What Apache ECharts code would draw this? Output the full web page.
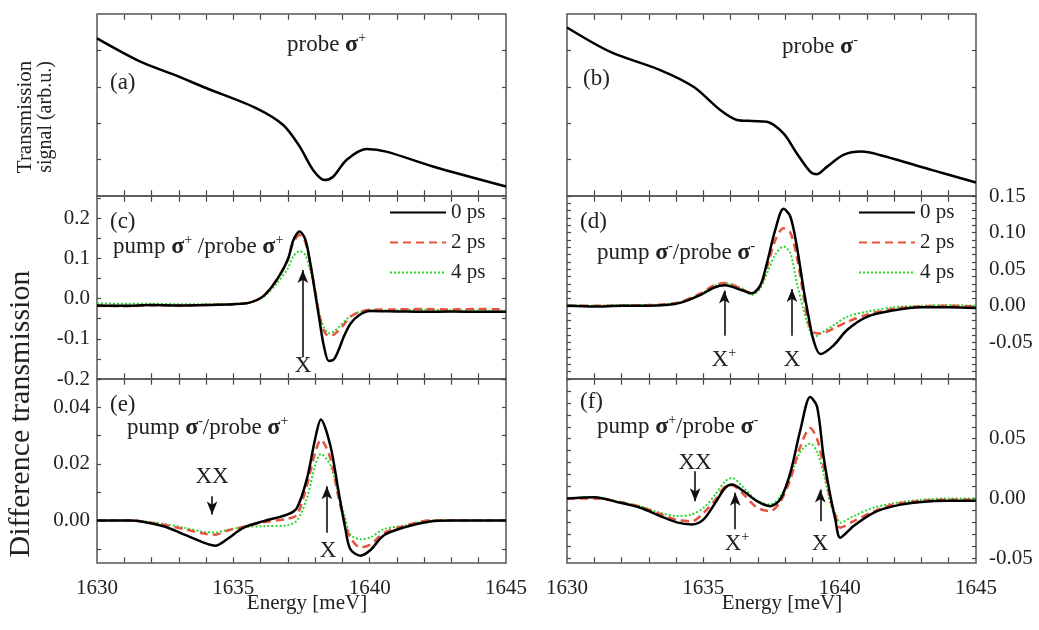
<!DOCTYPE html>
<html>
<head>
<meta charset="utf-8">
<script src="https://cdn.jsdelivr.net/npm/echarts@6/dist/echarts.min.js"></script>
<style>html,body{margin:0;padding:0;background:#fff}#main{width:1039px;height:630px}</style>
</head>
<body>
<div id="main"></div>
<script>
var chartDom = document.getElementById('main');
var myChart = echarts.init(chartDom);
var option;

var FONT = 'Liberation Serif';

// (a) probe sigma+ , (b) probe sigma- : transmission signal (arb.u.)
var aEnergy = [1630, 1631.59, 1632.8, 1634.02, 1635.85, 1636.83, 1637.44, 1637.93, 1638.35, 1638.66, 1639.15, 1639.88, 1640.61, 1642.32, 1645];
var aSignal = [4.33, 3.69, 3.34, 2.96, 2.41, 1.95, 1.35, 0.71, 0.44, 0.53, 0.99, 1.29, 1.22, 0.81, 0.26];
var bEnergy = [1630, 1631.59, 1633.42, 1634.64, 1635.62, 1636.23, 1636.8, 1637.33, 1637.94, 1638.43, 1638.92, 1639.17, 1639.53, 1640.14, 1640.8, 1641.5, 1643.4, 1645];
var bSignal = [4.63, 3.96, 3.46, 3.0, 2.36, 2.09, 2.06, 2.04, 1.72, 1.17, 0.67, 0.60, 0.80, 1.13, 1.22, 1.12, 0.71, 0.37];

// (c) pump s+/probe s+
var cEnergy = [1630, 1631, 1632, 1633, 1634, 1635, 1635.6, 1636.1, 1636.6, 1637.0, 1637.2, 1637.43, 1637.64, 1637.82, 1638.0, 1638.15, 1638.32, 1638.5, 1638.68, 1638.85, 1639.05, 1639.3, 1639.6, 1640.0, 1641, 1642, 1643, 1644, 1645];
var c0ps = [-0.017, -0.018, -0.016, -0.017, -0.016, -0.014, -0.01, 0.006, 0.047, 0.097, 0.145, 0.167, 0.147, 0.089, 0.014, -0.05, -0.118, -0.155, -0.152, -0.13, -0.095, -0.062, -0.042, -0.031, -0.032, -0.033, -0.032, -0.033, -0.033];
var c2ps = [-0.018, -0.019, -0.017, -0.018, -0.016, -0.014, -0.01, 0.006, 0.048, 0.097, 0.14, 0.158, 0.14, 0.085, 0.02, -0.04, -0.08, -0.093, -0.09, -0.08, -0.065, -0.045, -0.034, -0.028, -0.027, -0.026, -0.027, -0.026, -0.027];
var c4ps = [-0.012, -0.013, -0.013, -0.014, -0.014, -0.013, -0.01, 0.004, 0.038, 0.075, 0.105, 0.118, 0.108, 0.07, 0.02, -0.035, -0.072, -0.086, -0.082, -0.072, -0.058, -0.043, -0.034, -0.029, -0.029, -0.028, -0.029, -0.03, -0.03];

// (d) pump s-/probe s-
var dEnergy = [1630, 1631, 1632, 1633, 1633.6, 1634.15, 1634.9, 1635.4, 1635.8, 1636.36, 1636.78, 1637.09, 1637.33, 1637.64, 1637.94, 1638.19, 1638.43, 1638.68, 1638.86, 1639.04, 1639.29, 1639.78, 1640.27, 1641.0, 1642, 1643, 1644, 1645];
var d0ps = [0, -0.001, 0, 0, 0.001, 0.004, 0.015, 0.025, 0.028, 0.022, 0.017, 0.028, 0.058, 0.104, 0.1325, 0.122, 0.081, 0.022, -0.015, -0.047, -0.066, -0.054, -0.033, -0.015, -0.006, -0.002, -0.002, -0.003];
var d2ps = [0, 0, 0, 0.001, 0.002, 0.005, 0.017, 0.028, 0.031, 0.024, 0.017, 0.027, 0.052, 0.09, 0.106, 0.1, 0.067, 0.012, -0.024, -0.036, -0.038, -0.031, -0.022, -0.012, -0.004, -0.001, 0, -0.001];
var d4ps = [0.001, 0, 0.001, 0.001, 0.002, 0.005, 0.016, 0.027, 0.031, 0.025, 0.015, 0.024, 0.044, 0.07, 0.081, 0.072, 0.031, -0.006, -0.029, -0.043, -0.038, -0.0265, -0.015, -0.008, -0.002, 0, 0.001, 0];

// (e) pump s-/probe s+
var eEnergy = [1630, 1631.2, 1632.44, 1633.18, 1633.91, 1634.34, 1634.77, 1635.38, 1636.11, 1636.97, 1637.33, 1637.7, 1638.0, 1638.21, 1638.56, 1638.86, 1639.1, 1639.29, 1639.66, 1640.02, 1640.51, 1641.24, 1642.22, 1643, 1644, 1645];
var e0ps = [0, 0, -0.002, -0.0049, -0.0078, -0.0089, -0.0066, -0.0025, -0.0002, 0.0021, 0.0044, 0.0148, 0.0288, 0.0357, 0.0264, 0.0102, -0.0025, -0.0101, -0.0124, -0.0105, -0.0053, -0.0025, -0.0003, 0, 0, 0];
var e2ps = [0, 0, -0.0015, -0.003, -0.0046, -0.005, -0.0036, -0.0022, -0.0006, 0.0006, 0.002, 0.0125, 0.024, 0.0285, 0.022, 0.008, -0.001, -0.006, -0.0095, -0.0085, -0.0045, -0.002, 0, 0, 0, 0];
var e4ps = [0, 0, -0.0012, -0.0025, -0.004, -0.0042, -0.0033, -0.0023, -0.002, -0.0017, 0, 0.0079, 0.0195, 0.0235, 0.0195, 0.009, 0.001, -0.0049, -0.0066, -0.006, -0.0031, -0.0018, 0, 0, 0, 0];

// (f) pump s+/probe s-
var fEnergy = [1630, 1631, 1631.95, 1632.69, 1633.42, 1634.03, 1634.58, 1635.01, 1635.44, 1635.8, 1636.05, 1636.48, 1636.97, 1637.45, 1637.82, 1638.19, 1638.56, 1638.92, 1639.17, 1639.41, 1639.66, 1639.84, 1640.02, 1640.51, 1641.24, 1641.98, 1643, 1644, 1645];
var f0ps = [0, 0.001, -0.0036, -0.0078, -0.0147, -0.020, -0.0217, -0.0175, -0.0036, 0.0089, 0.0117, 0.006, -0.0022, -0.0064, -0.0008, 0.0214, 0.0575, 0.085, 0.077, 0.035, 0.002, -0.0175, -0.0328, -0.023, -0.012, -0.0064, -0.003, -0.002, -0.002];
var f2ps = [0, 0, -0.003, -0.007, -0.013, -0.018, -0.019, -0.012, -0.001, 0.01, 0.011, 0.0033, -0.0078, -0.0106, -0.003, 0.016, 0.0436, 0.059, 0.05, 0.027, 0.0, -0.014, -0.0244, -0.019, -0.011, -0.005, -0.002, -0.001, -0.001];
var f4ps = [0, 0.001, -0.003, -0.0065, -0.012, -0.0147, -0.0133, -0.0078, 0.0033, 0.0144, 0.0172, 0.009, -0.002, -0.005, 0.0015, 0.0186, 0.039, 0.046, 0.039, 0.021, -0.004, -0.012, -0.0203, -0.0147, -0.0078, -0.004, -0.001, 0, 0];

var delays = ['0 ps', '2 ps', '4 ps'];
var energyLabels = [1630, 1635, 1640, 1645];

function pairs(xs, ys) {
    return xs.map(function (x, i) { return [x, ys[i]]; });
}
function range(a, b, step) {
    var out = [];
    for (var v = a; v <= b + 1e-9; v += step) out.push(Math.round(v * 1000) / 1000);
    return out;
}

var grids = [
    {left: 97, top: 14, width: 409, height: 182},
    {left: 567, top: 14, width: 409, height: 182},
    {left: 97, top: 196, width: 409, height: 183},
    {left: 567, top: 196, width: 409, height: 183},
    {left: 97, top: 379, width: 409, height: 184},
    {left: 567, top: 379, width: 409, height: 184}
];
grids.forEach(function (g) {
    g.show = true;
    g.borderColor = '#555';
    g.borderWidth = 1.5;
    g.containLabel = false;
});

// y scale of every panel
var yCfg = [
    {min: 0, max: 5, ticks: [1, 2, 3, 4]},
    {min: 0, max: 5, ticks: [1, 2, 3, 4]},
    {min: -0.2, max: 0.255, ticks: range(-0.2, 0.25, 0.05), labels: [-0.2, -0.1, 0, 0.1, 0.2], dec: 1},
    {min: -0.1, max: 0.15, ticks: range(-0.1, 0.15, 0.01), labels: [-0.05, 0, 0.05, 0.1, 0.15], dec: 2},
    {min: -0.015, max: 0.05, ticks: range(-0.01, 0.05, 0.01), labels: [0, 0.02, 0.04], dec: 2},
    {min: -0.054, max: 0.1, ticks: range(-0.05, 0.1, 0.01), labels: [-0.05, 0, 0.05], dec: 2}
];

var tickColor = '#444';
var nGrid = grids.length;
var xAxes = [], yAxes = [], helperY = [];
grids.forEach(function (g, i) {
    var bottomLabels = i >= 4;
    // hidden helper axes whose zero sits on the bottom / top edge, so the energy axes can hang on them
    helperY.push({type: 'value', gridIndex: i, show: false, min: -0.004, max: 1});
    helperY.push({type: 'value', gridIndex: i, show: false, min: -1, max: 0.004});
    ['bottom', 'top'].forEach(function (pos, k) {
        xAxes.push({
            type: 'value', gridIndex: i, position: pos, min: 1630, max: 1645,
            axisLine: {show: false, onZero: true, onZeroAxisIndex: nGrid * 2 + i * 2 + k},
            splitLine: {show: false},
            axisTick: {show: true, inside: true, length: 5, customValues: range(1631, 1644, 1), lineStyle: {color: tickColor, width: 1.2}},
            axisLabel: {
                show: pos === 'bottom' && bottomLabels, margin: 15,
                fontFamily: FONT, fontSize: 21, color: '#222',
                customValues: energyLabels,
                formatter: function (v) { return String(v); }
            }
        });
    });
    var c = yCfg[i];
    var labelSide = (i % 2 === 0) ? 'left' : 'right';
    [labelSide, labelSide === 'left' ? 'right' : 'left'].forEach(function (pos, k) {
        yAxes.push({
            type: 'value', gridIndex: i, position: pos, min: c.min, max: c.max,
            axisLine: {show: false, onZero: false}, splitLine: {show: false},
            axisTick: {inside: true, length: 4, customValues: c.ticks, lineStyle: {color: tickColor, width: 1.2}},
            axisLabel: {
                show: k === 0 && !!c.labels,
                customValues: c.labels,
                margin: pos === 'left' ? 7 : 13,
                fontFamily: FONT, fontSize: 21, color: '#222',
                formatter: function (v) { return v.toFixed(c.dec); }
            }
        });
    });
});
yAxes = yAxes.concat(helperY);

var styles = {
    '0 ps': {color: '#000000', width: 2.5, type: 'solid'},
    '2 ps': {color: '#e5543e', width: 2.5, type: [8, 5]},
    '4 ps': {color: '#2ed82e', width: 2, type: [2, 2]}
};

var series = [];
function addLine(grid, name, xs, ys, arrows) {
    var ls = styles[name] || {color: '#000', width: 2.5};
    var s = {
        name: name, type: 'line', xAxisIndex: grid * 2, yAxisIndex: grid * 2,
        data: pairs(xs, ys), showSymbol: false, symbol: 'none', smooth: 0.3,
        lineStyle: ls, itemStyle: {color: ls.color}, z: 3
    };
    if (arrows) {
        s.markLine = {
            silent: true, symbol: ['none', 'arrow'], symbolSize: [8, 13],
            lineStyle: {color: '#111', width: 1.6, type: 'solid'},
            label: {show: false},
            data: arrows.map(function (a) { return [{coord: [a[0], a[1]]}, {coord: [a[0], a[2]]}]; })
        };
    }
    series.push(s);
}

// annotation arrows: [energy, from, to(tip)]
var arrowsC = [[1637.55, -0.146, 0.071]];
var arrowsD = [[1635.77, -0.041, 0.021], [1638.25, -0.041, 0.023]];
var arrowsE = [[1634.22, 0.0086, 0.0021], [1638.43, -0.0043, 0.0121]];
var arrowsF = [[1634.7, 0.0228, -0.0023], [1636.17, -0.0258, 0.0048], [1639.29, -0.019, 0.0075]];

addLine(0, 'probe σ+', aEnergy, aSignal);
addLine(1, 'probe σ-', bEnergy, bSignal);
addLine(2, '4 ps', cEnergy, c4ps); addLine(2, '2 ps', cEnergy, c2ps); addLine(2, '0 ps', cEnergy, c0ps, arrowsC);
addLine(3, '4 ps', dEnergy, d4ps); addLine(3, '2 ps', dEnergy, d2ps); addLine(3, '0 ps', dEnergy, d0ps, arrowsD);
addLine(4, '4 ps', eEnergy, e4ps); addLine(4, '2 ps', eEnergy, e2ps); addLine(4, '0 ps', eEnergy, e0ps, arrowsE);
addLine(5, '4 ps', fEnergy, f4ps); addLine(5, '2 ps', fEnergy, f2ps); addLine(5, '0 ps', fEnergy, f0ps, arrowsF);

var legendBase = {
    orient: 'vertical', top: 197, itemWidth: 56, itemHeight: 14, itemGap: 9,
    data: delays, selectedMode: false,
    itemStyle: {opacity: 0},
    textStyle: {fontFamily: FONT, fontSize: 21, color: '#222'}
};

var rich = {
    t: {fontFamily: FONT, fontSize: 23, color: '#222', lineHeight: 28},
    g: {fontFamily: FONT, fontSize: 24, fontWeight: 'bold', color: '#222', lineHeight: 28},
    s: {fontFamily: FONT, fontSize: 14, color: '#222', lineHeight: 14, verticalAlign: 'top'}
};
function txt(x, y, text, align, rot, size) {
    var el = {
        type: 'text', x: x, y: y, z: 10,
        style: {
            text: text, rich: rich, fill: '#222',
            font: (size || 23) + 'px "' + FONT + '"',
            align: align || 'left', verticalAlign: 'middle'
        }
    };
    if (rot) el.rotation = Math.PI / 2;
    return el;
}

option = {
    animation: false,
    backgroundColor: '#fff',
    grid: grids,
    xAxis: xAxes,
    yAxis: yAxes,
    legend: [
        Object.assign({left: 384}, legendBase),
        Object.assign({left: 853}, legendBase)
    ],
    series: series,
    graphic: [
        txt(110, 83, '{t|(a)}'),
        txt(287, 45, '{t|probe }{g|σ}{s|+}'),
        txt(583, 79, '{t|(b)}'),
        txt(782, 47, '{t|probe }{g|σ}{s|-}'),
        txt(110, 222, '{t|(c)}'),
        txt(113, 247, '{t|pump }{g|σ}{s|+}{t| /probe }{g|σ}{s|+}'),
        txt(580, 222, '{t|(d)}'),
        txt(597, 253, '{t|pump }{g|σ}{s|-}{t|/probe }{g|σ}{s|-}'),
        txt(110, 405, '{t|(e)}'),
        txt(127, 428, '{t|pump }{g|σ}{s|-}{t|/probe }{g|σ}{s|+}'),
        txt(580, 402, '{t|(f)}'),
        txt(597, 427, '{t|pump }{g|σ}{s|+}{t|/probe }{g|σ}{s|-}'),
        txt(303, 366, '{t|X}', 'center'),
        txt(724, 360, '{t|X}{s|+}', 'center'),
        txt(792, 360, '{t|X}', 'center'),
        txt(212, 477, '{t|XX}', 'center'),
        txt(328, 551, '{t|X}', 'center'),
        txt(695, 463, '{t|XX}', 'center'),
        txt(737, 544, '{t|X}{s|+}', 'center'),
        txt(820, 544, '{t|X}', 'center'),
        txt(25, 117, 'Transmission', 'center', true, 21),
        txt(46, 117, 'signal (arb.u.)', 'center', true, 20),
        txt(21, 414, 'Difference transmission', 'center', true, 30),
        txt(307, 603, 'Energy [meV]', 'center', false, 21),
        txt(782, 603, 'Energy [meV]', 'center', false, 21)
    ]
};

option && myChart.setOption(option);
</script>
</body>
</html>
